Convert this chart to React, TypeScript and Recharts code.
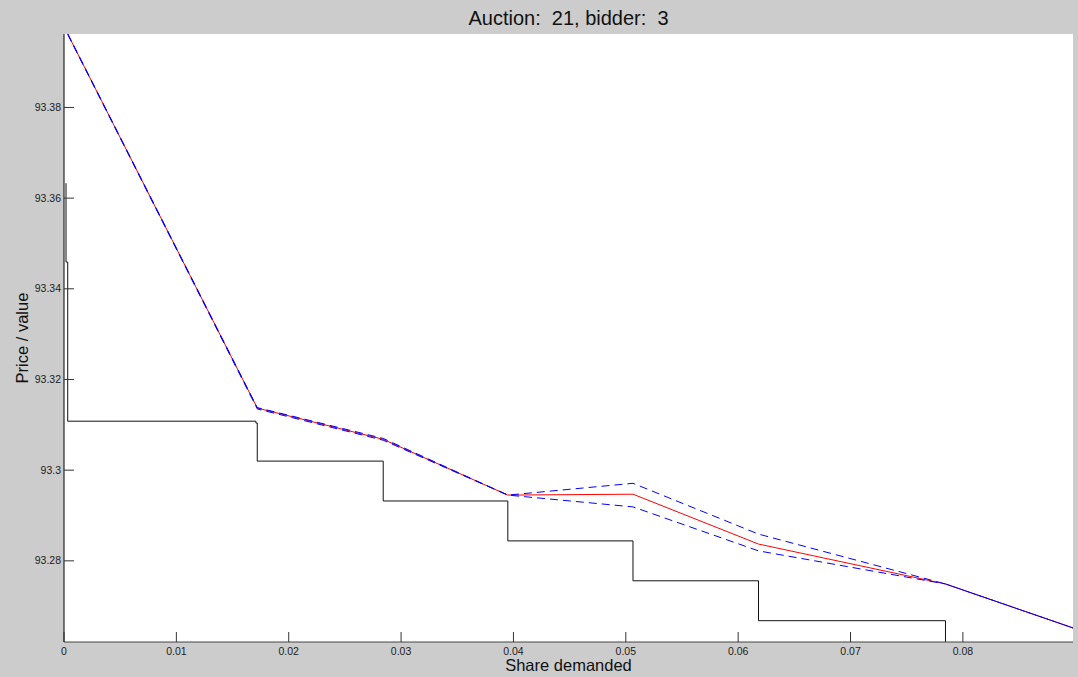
import { ComposedChart, Line, XAxis, YAxis } from "recharts";

const W = 1078;
const H = 677;
const FONT = "'Liberation Sans', Arial, sans-serif";
const PLOT = { left: 64, top: 34, right: 5, bottom: 35 };

const shareTicks = [0, 0.01, 0.02, 0.03, 0.04, 0.05, 0.06, 0.07, 0.08];
const priceTicks = [93.28, 93.3, 93.32, 93.34, 93.36, 93.38];
const shareDomain = [0, 0.0898];
const priceDomain = [93.2621, 93.3962];

// Submitted bid schedule: cumulative share where each step ends, and its price.
const bidShares = [0.00018, 0.00033, 0.01708, 0.0172, 0.02841, 0.0395, 0.05064, 0.06181, 0.07845, 0.07845];
const bidPrices = [93.3633, 93.3459, 93.3108, 93.3104, 93.302, 93.2932, 93.2844, 93.2756, 93.2668, 93.25];

// Estimated marginal value with its upper / lower band.
const valueShares = [0.00033, 0.0172, 0.02841, 0.0395, 0.05064, 0.06181, 0.07845, 0.0898];
const valueEstimate = [93.3962, 93.3137, 93.3068, 93.2945, 93.2947, 93.2837, 93.2749, 93.2652];
const valueUpper = [93.3963, 93.3138, 93.307, 93.2945, 93.2971, 93.2859, 93.2749, 93.2652];
const valueLower = [93.3961, 93.3135, 93.3066, 93.2945, 93.2919, 93.2822, 93.2749, 93.2652];

const bidRows = bidShares.map((share, i) => ({ share, price: bidPrices[i] }));
const valueRows = valueShares.map((share, i) => ({
  share,
  est: valueEstimate[i],
  hi: valueUpper[i],
  lo: valueLower[i],
}));

const TICK_LEN = 10;

// ticks point into the plot, labels sit outside
function PriceTick({ x, y, payload }: any) {
  return (
    <g>
      <line x1={x + 3} x2={x + 3 + TICK_LEN} y1={y} y2={y} stroke="#333" />
      <text x={x} y={y} dy={3.5} textAnchor="end" fontSize={10.5} fontFamily={FONT} fill="#222">
        {payload.value}
      </text>
    </g>
  );
}

function ShareTick({ x, y, payload }: any) {
  return (
    <g>
      <line x1={x} x2={x} y1={y - 3} y2={y - 3 - TICK_LEN} stroke="#333" />
      <text x={x} y={y} dy={10} textAnchor="middle" fontSize={10.5} fontFamily={FONT} fill="#222">
        {payload.value}
      </text>
    </g>
  );
}

export default function App() {
  return (
    <div
      style={{
        position: "absolute",
        left: 0,
        top: 0,
        width: W,
        height: H,
        background: "#cccccc",
        fontFamily: FONT,
        color: "#111",
      }}
    >
      <div
        style={{
          position: "absolute",
          left: PLOT.left,
          top: PLOT.top,
          width: W - PLOT.left - PLOT.right,
          height: H - PLOT.top - PLOT.bottom,
          background: "#ffffff",
        }}
      />
      <div style={{ position: "absolute", left: 0, top: 0 }}>
        <ComposedChart width={W} height={H} margin={{ top: PLOT.top, right: PLOT.right, bottom: 0, left: 0 }}>
          <XAxis
            type="number"
            dataKey="share"
            domain={shareDomain}
            ticks={shareTicks}
            allowDataOverflow
            height={PLOT.bottom}
            tickSize={0}
            tickMargin={3}
            tickLine={false}
            tick={<ShareTick />}
            axisLine={{ stroke: "#444" }}
          />
          <YAxis
            type="number"
            domain={priceDomain}
            ticks={priceTicks}
            allowDataOverflow
            width={PLOT.left}
            tickSize={0}
            tickMargin={3}
            tickLine={false}
            tick={<PriceTick />}
            axisLine={{ stroke: "#000" }}
          />
          <Line
            data={bidRows}
            dataKey="price"
            type="stepBefore"
            stroke="#111"
            strokeWidth={1}
            dot={false}
            isAnimationActive={false}
          />
          <Line
            data={valueRows}
            dataKey="est"
            type="linear"
            stroke="#ff0000"
            strokeWidth={1}
            dot={false}
            isAnimationActive={false}
          />
          <Line
            data={valueRows}
            dataKey="hi"
            type="linear"
            stroke="#0000ff"
            strokeWidth={1}
            strokeDasharray="8 5"
            dot={false}
            isAnimationActive={false}
          />
          <Line
            data={valueRows}
            dataKey="lo"
            type="linear"
            stroke="#0000ff"
            strokeWidth={1}
            strokeDasharray="8 5"
            dot={false}
            isAnimationActive={false}
          />
        </ComposedChart>
      </div>

      <div
        style={{
          position: "absolute",
          left: PLOT.left,
          width: W - PLOT.left - PLOT.right,
          top: 6,
          lineHeight: "24px",
          fontSize: 20,
          textAlign: "center",
          whiteSpace: "pre",
        }}
      >
        {"Auction:  21, bidder:  3"}
      </div>
      <div
        style={{
          position: "absolute",
          left: PLOT.left,
          width: W - PLOT.left - PLOT.right,
          top: 655,
          lineHeight: "20px",
          fontSize: 16.5,
          textAlign: "center",
        }}
      >
        Share demanded
      </div>
      <div
        style={{
          position: "absolute",
          left: -78,
          width: 200,
          top: 328,
          height: 20,
          lineHeight: "20px",
          fontSize: 16.5,
          textAlign: "center",
          transform: "rotate(-90deg)",
        }}
      >
        Price / value
      </div>
    </div>
  );
}
